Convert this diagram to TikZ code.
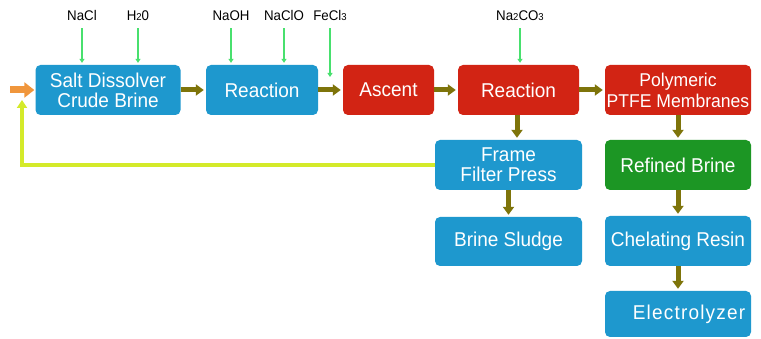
\documentclass[tikz,border=0pt]{standalone}
\usepackage{fontspec}
\setmainfont[FakeStretch=0.95]{Liberation Sans}
\usetikzlibrary{arrows.meta}
\definecolor{boxblue}{RGB}{30,152,206}
\definecolor{boxred}{RGB}{210,36,20}
\definecolor{boxgreen}{RGB}{28,150,36}
\definecolor{flowolive}{RGB}{126,116,10}
\definecolor{ingreen}{RGB}{72,224,110}
\definecolor{backyellow}{RGB}{212,234,42}
\definecolor{inorange}{RGB}{240,150,60}
\newcommand\chemdig[1]{{\fontsize{10}{10}\selectfont #1}}
\begin{document}
\begin{tikzpicture}[x=1pt,y=-1pt,
  box/.style={rounded corners=5pt, minimum height=50pt, inner sep=0pt, text=white,
    font=\fontsize{20}{20}\selectfont, align=center},
  bluebox/.style={box, fill=boxblue},
  redbox/.style={box, fill=boxred},
  greenbox/.style={box, fill=boxgreen},
  lab/.style={font=\fontsize{14}{14}\selectfont, inner sep=0pt, anchor=base},
  inarr/.style={draw=ingreen, line width=1.8pt, -{Triangle[width=5pt,length=4pt]}, shorten <=7pt, shorten >=2pt},
  flow/.style={draw=flowolive, line width=5pt, -{Triangle[width=11pt,length=8pt]}, shorten >=2pt},
  back/.style={draw=backyellow, line width=4pt, -{Triangle[width=10pt,length=8pt]}},
  start/.style={draw=inorange, line width=7pt, -{Triangle[width=15pt,length=10pt]}, shorten >=1pt}]
\useasboundingbox (0,0) rectangle (761,339);
\fill[white] (0,0) rectangle (761,339);

% boxes
\node[bluebox, minimum width=145pt] (b1) at (108,90) {Salt Dissolver\\Crude Brine};
\node[bluebox, minimum width=112pt] (b2) at (262,90) {Reaction};
\node[redbox, minimum width=91pt] (b3) at (388.5,90) {Ascent};
\node[redbox, minimum width=121pt] (b4) at (518.5,90) {Reaction};
\node[redbox, minimum width=146pt, font=\fontsize{18.5}{21}\selectfont] (b5) at (678,90) {Polymeric\\PTFE Membranes};
\node[bluebox, minimum width=147pt] (frame) at (508.5,165) {Frame\\Filter Press};
\node[bluebox, minimum width=147pt, minimum height=49pt] (sludge) at (508.5,241.5) {Brine Sludge};
\node[greenbox, minimum width=146pt] (refined) at (678,165) {Refined Brine};
\node[bluebox, minimum width=146pt] (chel) at (678,241) {Chelating Resin};
\node[bluebox, minimum width=146pt, minimum height=46pt] (elec) at (678,314) {\hspace*{22pt}\addfontfeatures{LetterSpace=6}Electrolyzer};

% input labels
\node[lab] (nacl) at (82,20.7) {NaCl};
\node[lab] (h2o) at (138,20.7) {H\chemdig{2}0};
\node[lab] (naoh) at (231,20.7) {NaOH};
\node[lab] (naclo) at (284,20.7) {NaClO};
\node[lab] (fecl) at (330,20.7) {FeCl\chemdig{3}};
\node[lab] (naco) at (520,20.7) {Na\chemdig{2}CO\chemdig{3}};
\coordinate (fe) at (330,79);

\draw[inarr] (nacl.south) -- (nacl.south |- b1.north);
\draw[inarr] (h2o.south) -- (h2o.south |- b1.north);
\draw[inarr] (naoh.south) -- (naoh.south |- b2.north);
\draw[inarr] (naclo.south) -- (naclo.south |- b2.north);
\draw[inarr] (fecl.south) -- (fe);
\draw[inarr] (naco.south) -- (naco.south |- b4.north);

% main flow
\draw[flow] (b1.east) -- (b2.west);
\draw[flow] (b2.east) -- (b3.west);
\draw[flow] (b3.east) -- (b4.west);
\draw[flow] (b4.east) -- (b5.west);
\draw[flow] ([xshift=-1.5pt]b4.south) -- ([xshift=-1.5pt]b4.south |- frame.north);
\draw[flow] (frame.south) -- (sludge.north);
\draw[flow] (b5.south) -- (refined.north);
\draw[flow] (refined.south) -- (chel.north);
\draw[flow] (chel.south) -- (elec.north);

% feedback and inlet
\coordinate (fb) at (22,100);
\coordinate (inlet) at (10,90);
\draw[back] (frame.west) -| (fb);
\draw[start] (inlet) -- (b1.west);
\end{tikzpicture}
\end{document}
